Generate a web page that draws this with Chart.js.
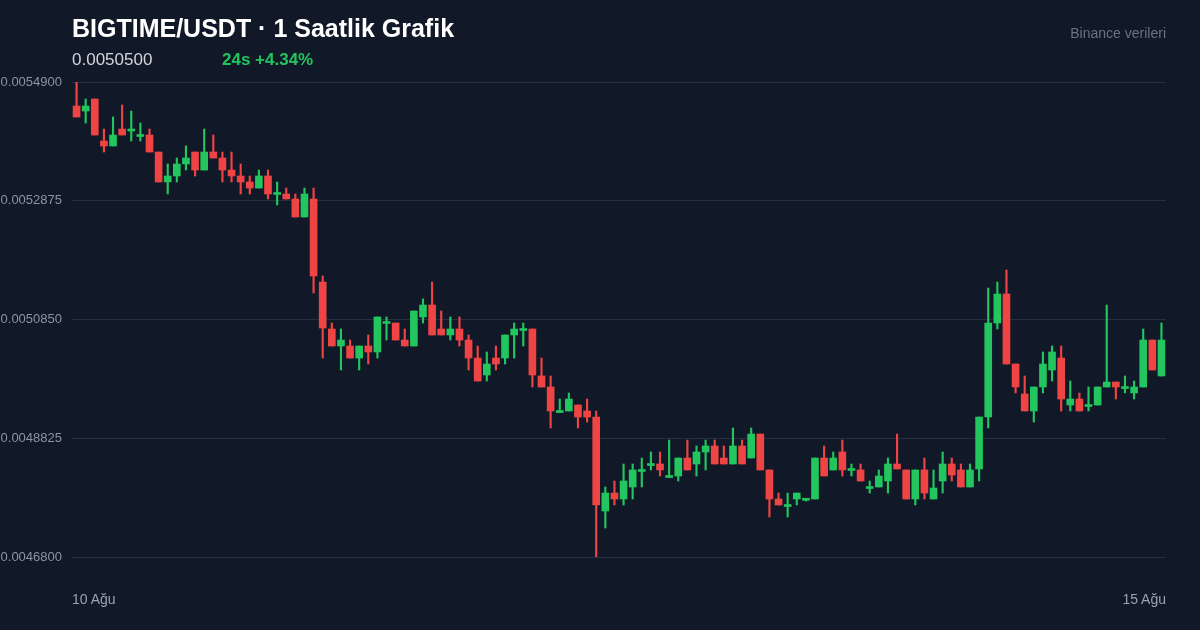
<!DOCTYPE html>
<html><head><meta charset="utf-8">
<script src="https://cdn.jsdelivr.net/npm/chart.js@4.4.1/dist/chart.umd.min.js"></script>
<style>
html,body{margin:0;padding:0;background:#111827;width:1200px;height:630px;overflow:hidden;font-family:"Liberation Sans",Arial,sans-serif}
#wrap{position:absolute;left:0;top:0;width:1200px;height:630px}
.t{position:absolute;white-space:nowrap}
</style></head><body>
<div id="wrap"><canvas id="c" width="1200" height="630"></canvas></div>
<div class="t" style="left:72px;top:14px;font-size:25px;font-weight:bold;color:#ffffff">BIGTIME/USDT · 1 Saatlik Grafik</div>
<div class="t" style="left:72px;top:50px;font-size:17px;color:#d1d5db">0.0050500</div>
<div class="t" style="left:222px;top:50px;font-size:17px;font-weight:bold;color:#22c55e">24s +4.34%</div>
<div class="t" style="right:34px;top:25px;font-size:14px;color:#6b7280">Binance verileri</div>
<div class="t" style="left:72px;top:591px;font-size:14px;color:#9ca3af">10 Ağu</div>
<div class="t" style="right:34px;top:591px;font-size:14px;color:#9ca3af">15 Ağu</div>
<script>
const opens=[0.0054491,0.0054405,0.0054610,0.0053894,0.0053809,0.0054098,0.0054064,0.0053971,0.0053996,0.0053706,
0.0053195,0.0053297,0.0053502,0.0053706,0.0053399,0.0053706,0.0053604,0.0053399,0.0053297,0.0053195,
0.0053092,0.0053297,0.0052982,0.0052990,0.0052905,0.0052598,0.0052905,0.0051489,0.0050688,0.0050398,
0.0050398,0.0050193,0.0050398,0.0050296,0.0050782,0.0050790,0.0050500,0.0050398,0.0050893,0.0051097,
0.0050688,0.0050586,0.0050688,0.0050500,0.0050193,0.0049904,0.0050193,0.0050193,0.0050586,0.0050662,
0.0050688,0.0049887,0.0049699,0.0049264,0.0049290,0.0049392,0.0049290,0.0049187,0.0047584,0.0047891,
0.0047789,0.0047994,0.0048258,0.0048360,0.0048386,0.0048156,0.0048181,0.0048488,0.0048386,0.0048591,
0.0048693,0.0048488,0.0048386,0.0048693,0.0048488,0.0048897,0.0048284,0.0047789,0.0047661,0.0047789,
0.0047767,0.0047789,0.0048488,0.0048284,0.0048591,0.0048275,0.0048284,0.0047968,0.0047994,0.0048096,
0.0048386,0.0048284,0.0047789,0.0048284,0.0047789,0.0048096,0.0048386,0.0048284,0.0047994,0.0048301,
0.0049187,0.0050790,0.0051285,0.0050091,0.0049580,0.0049290,0.0049699,0.0049989,0.0050193,0.0049392,
0.0049494,0.0049366,0.0049392,0.0049699,0.0049784,0.0049673,0.0049597,0.0049699,0.0050500,0.0049887];
const highs=[0.0054905,0.0054610,0.0054610,0.0054098,0.0054303,0.0054508,0.0054405,0.0054201,0.0054098,0.0053706,
0.0053502,0.0053604,0.0053809,0.0053706,0.0054098,0.0053996,0.0053706,0.0053706,0.0053502,0.0053297,
0.0053399,0.0053399,0.0053195,0.0053092,0.0052990,0.0053092,0.0053092,0.0051592,0.0050790,0.0050688,
0.0050500,0.0050398,0.0050586,0.0050893,0.0050893,0.0050790,0.0050688,0.0050995,0.0051200,0.0051489,
0.0050995,0.0050893,0.0050893,0.0050586,0.0050398,0.0050296,0.0050398,0.0050586,0.0050790,0.0050790,
0.0050688,0.0050193,0.0049887,0.0049494,0.0049597,0.0049392,0.0049494,0.0049290,0.0047994,0.0048096,
0.0048386,0.0048386,0.0048488,0.0048591,0.0048591,0.0048795,0.0048488,0.0048795,0.0048693,0.0048795,
0.0048795,0.0048693,0.0049000,0.0048795,0.0049000,0.0048897,0.0048284,0.0047891,0.0047891,0.0047891,
0.0047789,0.0048488,0.0048693,0.0048591,0.0048795,0.0048386,0.0048386,0.0048096,0.0048284,0.0048488,
0.0048897,0.0048284,0.0048284,0.0048488,0.0048284,0.0048591,0.0048488,0.0048386,0.0048386,0.0049187,
0.0051387,0.0051489,0.0051694,0.0050091,0.0049887,0.0049699,0.0050296,0.0050398,0.0050398,0.0049801,
0.0049597,0.0049699,0.0049699,0.0051097,0.0049784,0.0049887,0.0049801,0.0050688,0.0050500,0.0050790];
const lows=[0.0054303,0.0054201,0.0053996,0.0053706,0.0053809,0.0053996,0.0053894,0.0053894,0.0053706,0.0053195,
0.0052990,0.0053195,0.0053399,0.0053297,0.0053399,0.0053604,0.0053195,0.0053195,0.0052990,0.0052990,
0.0053092,0.0052905,0.0052803,0.0052905,0.0052598,0.0052598,0.0051302,0.0050193,0.0050398,0.0049989,
0.0050193,0.0049989,0.0050091,0.0050193,0.0050500,0.0050500,0.0050398,0.0050398,0.0050790,0.0050586,
0.0050586,0.0050500,0.0050398,0.0049989,0.0049801,0.0049801,0.0049989,0.0050091,0.0050193,0.0050398,
0.0049699,0.0049699,0.0049000,0.0049264,0.0049290,0.0049000,0.0049102,0.0046800,0.0047295,0.0047687,
0.0047687,0.0047789,0.0047994,0.0048284,0.0048181,0.0048156,0.0048096,0.0048284,0.0048181,0.0048284,
0.0048386,0.0048386,0.0048386,0.0048386,0.0048488,0.0048284,0.0047482,0.0047687,0.0047482,0.0047687,
0.0047755,0.0047789,0.0048181,0.0048284,0.0048181,0.0048181,0.0048096,0.0047891,0.0047994,0.0047891,
0.0048301,0.0047789,0.0047687,0.0047789,0.0047789,0.0047891,0.0048096,0.0047994,0.0047994,0.0048096,
0.0049000,0.0050688,0.0050091,0.0049597,0.0049290,0.0049102,0.0049597,0.0049801,0.0049290,0.0049290,
0.0049290,0.0049290,0.0049392,0.0049699,0.0049494,0.0049597,0.0049494,0.0049699,0.0049989,0.0049887];
const closes=[0.0054303,0.0054491,0.0053996,0.0053809,0.0053996,0.0053996,0.0054081,0.0053979,0.0053706,0.0053195,
0.0053297,0.0053502,0.0053604,0.0053399,0.0053706,0.0053604,0.0053399,0.0053297,0.0053195,0.0053092,
0.0053297,0.0052990,0.0052990,0.0052905,0.0052598,0.0052990,0.0051592,0.0050705,0.0050398,0.0050500,
0.0050193,0.0050398,0.0050296,0.0050893,0.0050790,0.0050500,0.0050398,0.0050995,0.0051097,0.0050586,
0.0050586,0.0050688,0.0050500,0.0050193,0.0049801,0.0050091,0.0050091,0.0050586,0.0050688,0.0050671,
0.0049904,0.0049699,0.0049290,0.0049273,0.0049494,0.0049187,0.0049187,0.0047687,0.0047891,0.0047789,
0.0048096,0.0048284,0.0048267,0.0048369,0.0048284,0.0048164,0.0048488,0.0048284,0.0048591,0.0048693,
0.0048386,0.0048386,0.0048693,0.0048386,0.0048897,0.0048284,0.0047789,0.0047687,0.0047670,0.0047891,
0.0047772,0.0048488,0.0048181,0.0048488,0.0048284,0.0048284,0.0048096,0.0047977,0.0048181,0.0048386,
0.0048301,0.0047789,0.0048284,0.0047891,0.0047977,0.0048386,0.0048198,0.0047994,0.0048284,0.0049187,
0.0050790,0.0051285,0.0050091,0.0049699,0.0049290,0.0049699,0.0050091,0.0050296,0.0049494,0.0049494,
0.0049290,0.0049375,0.0049699,0.0049784,0.0049699,0.0049682,0.0049699,0.0050500,0.0049989,0.0050500];
const tickValues=[0.00549,0.0052875,0.005085,0.0048825,0.00468];
const labels=opens.map((_,i)=>'m'+i);
const UP='#22c55e', DOWN='#ef4444';
const col=opens.map((o,i)=>closes[i]>=o?UP:DOWN);
new Chart(document.getElementById('c'),{
 type:'bar',
 data:{labels,datasets:[
  {data:opens.map((o,i)=>[lows[i],highs[i]]),backgroundColor:col,barThickness:1.5,grouped:false,order:2},
  {data:opens.map((o,i)=>[o,closes[i]]),backgroundColor:col,barThickness:7,grouped:false,minBarLength:2,order:1}
 ]},
 options:{responsive:false,animation:false,
  layout:{padding:{top:82,bottom:73,right:34,left:0}},
  plugins:{legend:{display:false},tooltip:{enabled:false}},
  scales:{
   x:{display:false,offset:true},
   y:{min:0.00468,max:0.00549,
    afterBuildTicks:s=>{s.ticks=tickValues.map(v=>({value:v}));},
    afterFit:s=>{s.width=72;},
    grid:{color:'#243040',drawTicks:false,lineWidth:1},
    border:{display:false},
    ticks:{padding:10,color:'#8b95a5',font:{size:13,family:'"Liberation Sans",Arial'},callback:v=>v.toFixed(7)}
   }
  }
 }
});
</script></body></html>
